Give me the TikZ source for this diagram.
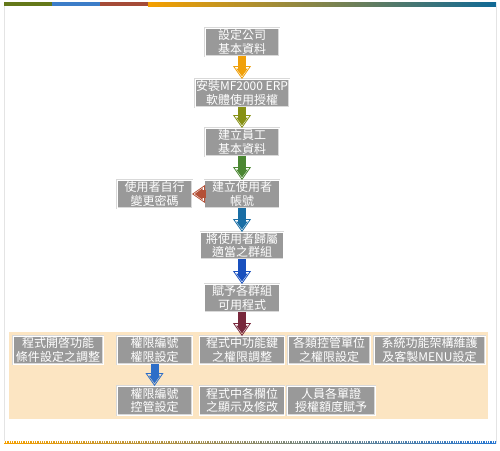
\documentclass[tikz,border=0pt]{standalone}
\usepackage{fontspec}
\newfontfamily\cjk{Noto Sans CJK TC}
\usetikzlibrary{arrows.meta}
\definecolor{boxgray}{RGB}{153,153,153}
\definecolor{panel}{RGB}{252,229,194}
\definecolor{frame}{RGB}{228,228,228}
\definecolor{arOrange}{RGB}{240,160,10}
\definecolor{arOlive}{RGB}{135,145,20}
\definecolor{arGreen}{RGB}{75,135,50}
\definecolor{arRed}{RGB}{180,80,55}
\definecolor{arTeal}{RGB}{25,110,165}
\definecolor{arBlue}{RGB}{25,80,190}
\definecolor{arPlum}{RGB}{120,40,60}
\definecolor{arSky}{RGB}{45,110,200}
\definecolor{barOlive}{RGB}{100,120,25}
\definecolor{barBlue}{RGB}{60,125,200}
\definecolor{barRed}{RGB}{165,75,55}
\definecolor{barOrange}{RGB}{245,160,0}
\definecolor{barTeal}{RGB}{15,105,150}
\definecolor{dotGreen}{RGB}{110,140,20}
\definecolor{dotBlue}{RGB}{40,120,210}
\begin{document}
\begin{tikzpicture}[x=1pt, y=-1pt, every node/.style={font=\cjk\fontsize{12}{13.5}\selectfont},
  box/.style={draw=black!15, double=white, double distance=0.7pt, line width=0.4pt, fill=boxgray, text=white,
    minimum height=28pt, inner sep=0pt, outer sep=0pt, align=center},
  fat/.style={line width=8pt, draw=#1, -{Triangle[width=18pt,length=13pt,open,line width=0.8pt]},
    postaction={draw=#1, line width=8pt, shorten >=2.5pt, -{Triangle[width=11pt,length=8pt]}}}]
\useasboundingbox (0,0) rectangle (500,450);
% frame
\fill[barOlive] (4,2) rectangle (52,6);
\fill[barBlue] (52,2) rectangle (100,6);
\fill[barRed] (100,2) rectangle (148,6);
\shade[left color=barOrange, right color=barTeal] (148,2) rectangle (496,6);
\draw[frame, line width=0.8pt] (4,6) -- (4,442) (496,6) -- (496,442);
\shade[left color=barOrange, middle color=dotGreen, right color=dotBlue] (4,441) rectangle (496,443);
\draw[white, line width=2.5pt, dash pattern=on 1pt off 1.3pt] (4,442) -- (496,442);
\fill[panel] (9,332) rectangle (488,419);
% main flow
\node[box,minimum width=74pt] (corp) at (242,42) {設定公司\\基本資料};
\node[box,minimum width=94pt] (erp) at (242,93) {安裝MF2000 ERP\\軟體使用授權};
\node[box,minimum width=74pt] (staff) at (242,142) {建立員工\\基本資料};
\node[box,minimum width=75pt] (acct) at (242,194) {建立使用者\\帳號};
\node[box,minimum width=75pt] (pwd) at (154.5,194) {使用者自行\\變更密碼};
\node[box,minimum width=83pt,minimum height=27pt] (grp) at (242,245.5) {將使用者歸屬\\適當之群組};
\node[box,minimum width=75pt] (prog) at (242,298) {賦予各群組\\可用程式};
% settings
\node[box,minimum width=90pt] (opt) at (58,350) {程式開啓功能\\條件設定之調整};
\node[box,minimum width=75pt] (permset) at (154.5,350) {權限編號\\權限設定};
\node[box,minimum width=85pt] (fnkey) at (242,350) {程式中功能鍵\\之權限調整};
\node[box,minimum width=82pt] (unit) at (329,350) {各類控管單位\\之權限設定};
\node[box,minimum width=111pt] (menu) at (429.5,350) {系統功能架構維護\\及客製MENU設定};
\node[box,minimum width=75pt,minimum height=29pt] (permctl) at (154.5,400.5) {權限編號\\控管設定};
\node[box,minimum width=85pt,minimum height=29pt] (field) at (242,400.5) {程式中各欄位\\之顯示及修改};
\node[box,minimum width=88pt,minimum height=29pt] (quota) at (331,400.5) {人員各單證\\授權額度賦予};
\draw[fat=arOrange] (corp) -- (erp);
\draw[fat=arOlive] (erp) -- (staff);
\draw[fat=arGreen] (staff) -- (acct);
\draw[fat=arRed] (acct) -- (pwd);
\draw[fat=arTeal] (acct) -- (grp);
\draw[fat=arBlue] (grp) -- (prog);
\draw[fat=arPlum] (prog) -- (fnkey);
\draw[fat=arSky] (permset) -- (permctl);
\end{tikzpicture}
\end{document}
